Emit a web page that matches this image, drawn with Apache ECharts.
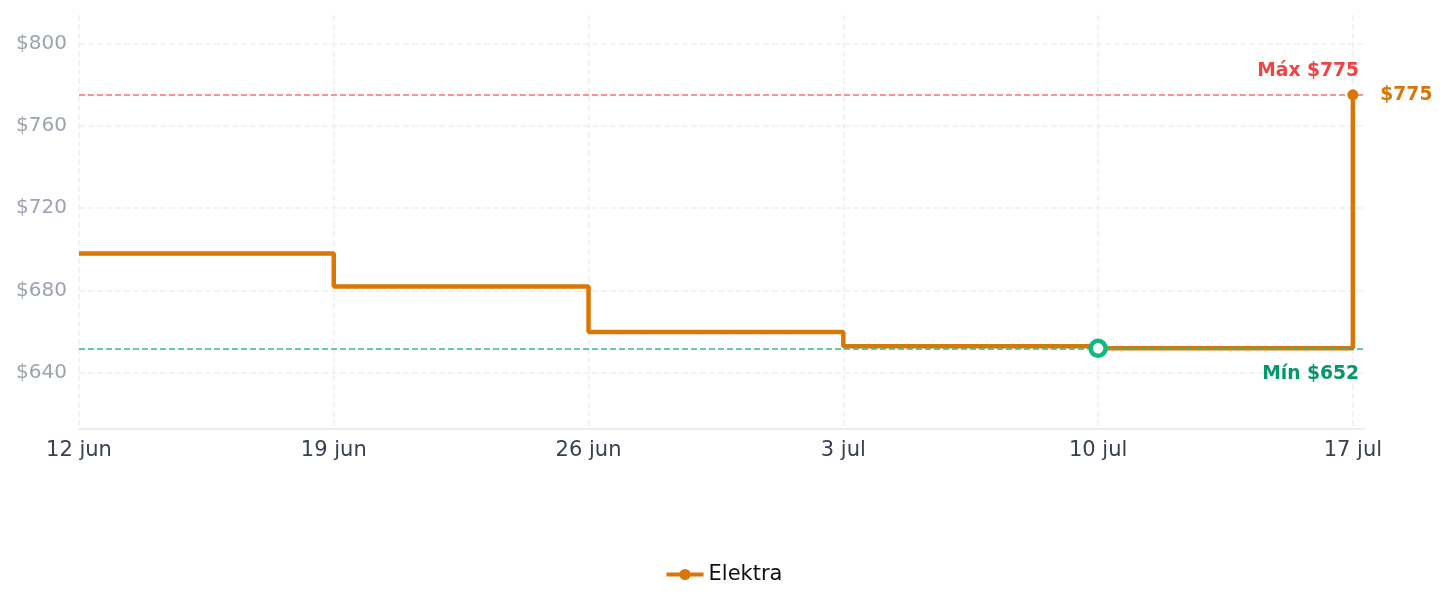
<!DOCTYPE html>
<html>
<head>
<meta charset="utf-8">
<script src="https://cdn.jsdelivr.net/npm/echarts@6/dist/echarts.min.js"></script>
<style>html,body{margin:0;padding:0;background:#fff;}#c{width:1447px;height:607px;}</style>
</head>
<body>
<div id="c"></div>
<script>
const dates = ['2025-06-12','2025-06-19','2025-06-26','2025-07-03','2025-07-10','2025-07-17'];
const prices = [698, 682, 660, 653, 652, 775];
const yTicks = [640, 680, 720, 760, 800];
const xTickDates = ['2025-06-12','2025-06-19','2025-06-26','2025-07-03','2025-07-10','2025-07-17'];
const monthNames = ['ene','feb','mar','abr','may','jun','jul','ago','sep','oct','nov','dic'];
const seriesName = 'Elektra';

const ts = d => Date.parse(d + 'T00:00:00Z');
const DAY = 86400000;
const maxV = Math.max(...prices), minV = Math.min(...prices);
const fmtDate = v => { const d = new Date(v); return d.getUTCDate() + ' ' + monthNames[d.getUTCMonth()]; };

const chart = echarts.init(document.getElementById('c'));
chart.setOption({
  animation: false,
  grid: { left: 79, right: 82, top: 15, bottom: 178, containLabel: false },
  legend: {
    bottom: 17, left: 'center',
    itemWidth: 37, itemHeight: 14, itemGap: 10,
    lineStyle: { width: 4 },
    textStyle: { fontSize: 21, color: '#111', fontFamily: 'DejaVu Sans' },
    data: [seriesName]
  },
  xAxis: {
    type: 'value',
    min: ts(dates[0]),
    max: ts(dates[dates.length - 1]) + DAY / 3,
    axisLine: { show: true, lineStyle: { color: '#e5e7eb', width: 1.5 } },
    axisTick: { show: false, customValues: xTickDates.map(ts) },
    axisLabel: {
      customValues: xTickDates.map(ts),
      formatter: fmtDate, color: '#374151', fontSize: 21, margin: 11, fontFamily: 'DejaVu Sans'
    },
    splitLine: { show: true, lineStyle: { color: '#f0f0f0', type: 'dashed', width: 1.5 } }
  },
  yAxis: {
    type: 'value',
    min: minV * 0.94,
    max: maxV * 1.05,
    axisLine: { show: false },
    axisTick: { show: false, customValues: yTicks },
    axisLabel: {
      customValues: yTicks,
      formatter: v => '$' + v, color: '#9ca3af', fontSize: 20, margin: 12, fontFamily: 'DejaVu Sans',
      padding: [6, 0, 0, 0]
    },
    splitLine: { show: true, lineStyle: { color: '#f0f0f0', type: 'dashed', width: 1.5 } }
  },
  series: [{
    name: seriesName,
    type: 'line',
    step: 'end',
    data: dates.map((d, i) => [ts(d), prices[i]]),
    showSymbol: false,
    symbol: 'circle',
    symbolSize: 10,
    color: '#d97706',
    lineStyle: { width: 4.5, color: '#d97706' },
    markLine: {
      silent: true,
      symbol: 'none',
      data: [
        { yAxis: maxV, lineStyle: { color: '#f87171', type: 'dashed', width: 1.5 },
          label: { show: true, position: 'insideEndTop', distance: [6, 14], formatter: 'Máx $' + maxV,
                   color: '#ef4444', fontWeight: 'bold', fontSize: 18.7, fontFamily: 'DejaVu Sans' } },
        { yAxis: minV, lineStyle: { color: '#34b98a', type: 'dashed', width: 1.5 },
          label: { show: true, position: 'insideEndBottom', distance: [6, 16], formatter: 'Mín $' + minV,
                   color: '#059669', fontWeight: 'bold', fontSize: 18.7, fontFamily: 'DejaVu Sans' } }
      ]
    },
    markPoint: {
      silent: true,
      data: [
        { type: 'min', symbol: 'circle', symbolSize: 15,
          itemStyle: { color: '#fff', borderColor: '#10b981', borderWidth: 4.5 },
          label: { show: false } },
        { type: 'max', symbol: 'circle', symbolSize: 11,
          itemStyle: { color: '#d97706' },
          label: { show: true, position: 'right', distance: 22, formatter: '$' + maxV,
                   color: '#d97706', fontWeight: 'bold', fontSize: 18.7, fontFamily: 'DejaVu Sans' } }
      ]
    }
  }]
});
</script>
</body>
</html>
